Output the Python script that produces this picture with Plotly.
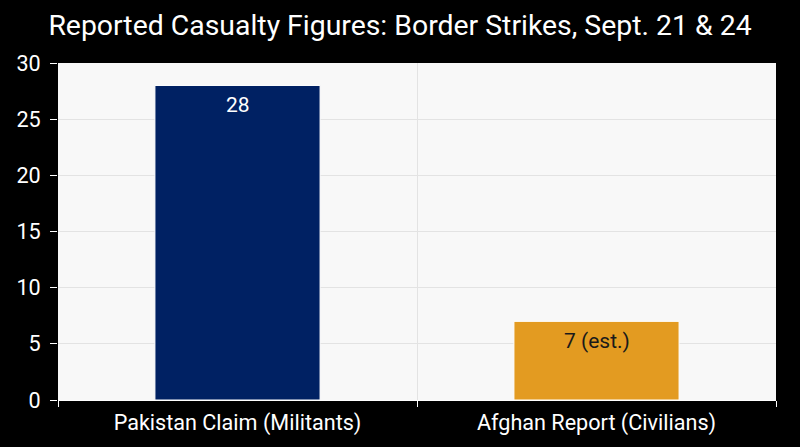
import plotly.graph_objects as go

# Reported casualty figures
categories = ["Pakistan Claim (Militants)", "Afghan Report (Civilians)"]
values = [28, 7]
labels = ["28", "7 (est.)"]
bar_colors = ["#002163", "#E39B21"]
label_colors = ["white", "#1a1a1a"]

fig = go.Figure()
fig.add_trace(go.Bar(
    x=categories,
    y=values,
    marker=dict(color=bar_colors, line=dict(color="white", width=1)),
    width=0.46,
    hoverinfo="x+y",
))

# value labels just inside the top of each bar
for cat, val, lab, col in zip(categories, values, labels, label_colors):
    fig.add_annotation(x=cat, y=val, text=lab, showarrow=False,
                       yanchor="middle", yshift=-20,
                       font=dict(size=21, color=col, family="Roboto"))

fig.update_layout(
    title=dict(text="Reported Casualty Figures: Border Strikes, Sept. 21 & 24",
               x=0.5, xanchor="center", y=0.944, yanchor="middle",
               font=dict(size=28.4, color="white", family="Roboto")),
    paper_bgcolor="black",
    plot_bgcolor="#f8f8f8",
    font=dict(family="Roboto", color="white", size=21),
    width=800, height=447,
    margin=dict(l=58, r=24, t=63, b=47),
    showlegend=False,
)
fig.update_xaxes(tickson="boundaries", ticks="outside", ticklen=6, tickcolor="white",
                 showgrid=True, gridcolor="#e3e3e3", showline=True, linecolor="white",
                 automargin=False, ticklabelstandoff=3,
                 tickfont=dict(size=21.6, color="white"))
fig.update_yaxes(range=[0, 30], dtick=5, ticks="outside", ticklen=7, tickcolor="white",
                 showgrid=True, gridcolor="#e3e3e3", zeroline=False,
                 automargin=False, ticklabelstandoff=5,
                 tickfont=dict(size=21.6, color="white"))

# drop the default page margin so the black background reaches the edges
fig.write_html("out.html",
               config={"displayModeBar": False},
               post_script="document.body.style.margin='0';"
                           "document.body.style.background='black';"
                           "document.body.style.overflow='hidden';")
